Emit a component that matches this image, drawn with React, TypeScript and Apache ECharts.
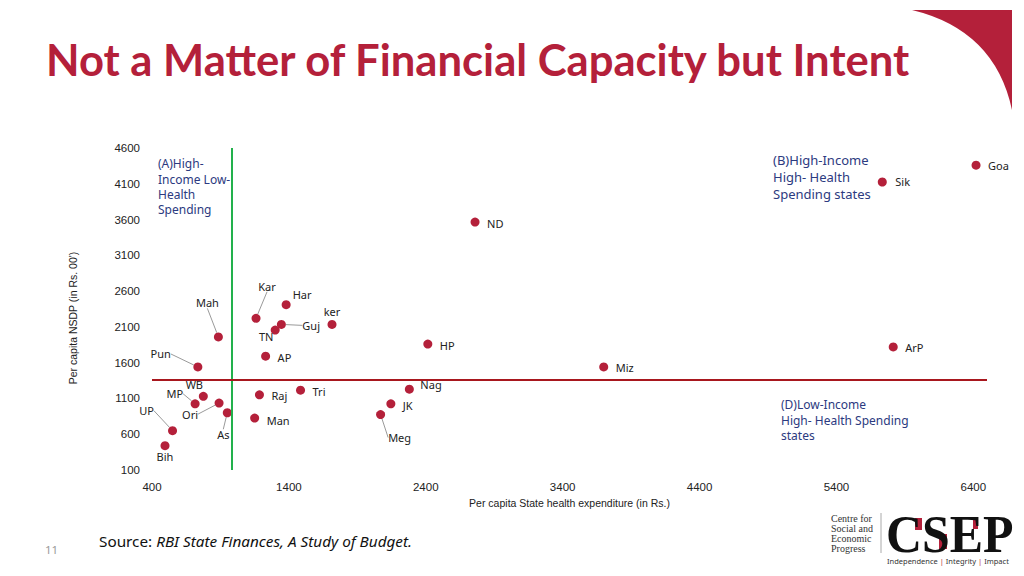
import React, { useEffect, useRef } from "react";
import * as echarts from "echarts";

// ---- Data ----
const states = ["Goa", "Sik", "ND", "HP", "Miz", "ArP", "Nag", "JK", "Meg", "Kar", "Har", "ker", "Guj", "TN", "AP", "Mah", "Pun", "WB", "MP", "Ori", "As", "UP", "Bih", "Raj", "Tri", "Man"];
const healthExp = [6420, 5735, 2760, 2415, 3700, 5815, 2280, 2145, 2070, 1160, 1380, 1715, 1345, 1300, 1230, 885, 735, 775, 715, 890, 950, 550, 495, 1185, 1485, 1150];
const nsdp = [4360, 4125, 3565, 1860, 1540, 1820, 1230, 1025, 875, 2220, 2410, 2135, 2135, 2055, 1690, 1960, 1540, 1130, 1025, 1035, 900, 650, 440, 1150, 1215, 825];

const xTicks = [400, 1400, 2400, 3400, 4400, 5400, 6400];
const yTicks = [100, 600, 1100, 1600, 2100, 2600, 3100, 3600, 4100, 4600];
const xRange = [400, 6500];
const yRange = [100, 4600];
const avgHealthExp = 980;
const avgNsdp = 1360;

const titleText = "Not a Matter of Financial Capacity but Intent";
const xName = "Per capita State health expenditure (in Rs.)";
const yName = "Per capita NSDP (in Rs. 00')";
const quadA = "(A)High-\nIncome Low-\nHealth\nSpending";
const quadB = "(B)High-Income\nHigh- Health\nSpending states";
const quadD = "(D)Low-Income\nHigh- Health Spending\nstates";

// label placement (style): dx, dy, align, leader line
const labelPlacement: Record<string, [number, number, string, boolean]> = {
  Goa: [12, 0, "left", false],
  Sik: [13, 0, "left", false],
  ND: [12, 1, "left", false],
  HP: [12, 1, "left", false],
  Miz: [12, 1, "left", false],
  ArP: [12, 1, "left", false],
  Nag: [11, -5, "left", false],
  JK: [12, 2, "left", false],
  Meg: [19, 23, "center", true],
  Kar: [11, -32, "center", true],
  Har: [16, -10, "center", false],
  ker: [0, -13, "center", false],
  Guj: [21, 1, "left", true],
  TN: [-9, 6, "center", false],
  AP: [12, 1, "left", false],
  Mah: [-11, -34, "center", true],
  Pun: [-27, -13, "right", true],
  WB: [-9, -12, "center", false],
  MP: [-12, -10, "right", true],
  Ori: [-29, 11, "center", true],
  As: [-4, 22, "center", true],
  UP: [-26, -20, "center", true],
  Bih: [0, 11, "center", false],
  Raj: [12, 1, "left", false],
  Tri: [12, 1, "left", false],
  Man: [12, 2, "left", false],
};

const RED = "#B4203A";
const NAVY = "#2C3A80";
const AXISFONT = "'Liberation Sans', Arial, sans-serif";
const SANS = "'Noto Sans', 'Open Sans', sans-serif";
const SERIF = "'Liberation Serif', 'DejaVu Serif', serif";

echarts.graphic.registerShape(
  "wedge",
  echarts.graphic.extendPath("M0,0 L100,0 L100,100 Q83,20 0,0 Z", {})
);

export default function App() {
  const ref = useRef<HTMLDivElement>(null);
  useEffect(() => {
    if (!ref.current) return;
    const chart = echarts.init(ref.current, undefined, { renderer: "svg" });
    const option: any = {
      animation: false,
      backgroundColor: "#ffffff",
      grid: { left: 152, right: 37, top: 148, bottom: 106, containLabel: false },
      xAxis: {
        type: "value",
        min: xRange[0],
        max: xRange[1],
        axisLine: { show: false },
        axisTick: { show: false },
        splitLine: { show: false },
        axisLabel: {
          customValues: xTicks,
          formatter: (v: number) => String(v),
          margin: 11,
          color: "#222",
          fontSize: 11.5,
          fontFamily: AXISFONT,
        },
        name: xName,
        nameLocation: "middle",
        nameGap: 25,
        nameTextStyle: { color: "#222", fontSize: 10.5, fontFamily: AXISFONT },
      },
      yAxis: {
        type: "value",
        min: yRange[0],
        max: yRange[1],
        axisLine: { show: false },
        axisTick: { show: false },
        splitLine: { show: false },
        axisLabel: {
          customValues: yTicks,
          formatter: (v: number) => String(v),
          margin: 12,
          color: "#222",
          fontSize: 11.5,
          fontFamily: AXISFONT,
        },
      },
      series: [
        {
          type: "scatter",
          symbolSize: 9,
          itemStyle: { color: RED, opacity: 1 },
          data: states.map((s, i) => ({
            name: s,
            value: [healthExp[i], nsdp[i]],
            labelLine: { show: labelPlacement[s][3], lineStyle: { color: "#9a9a9a", width: 1 } },
          })),
          label: {
            show: true,
            position: "inside",
            formatter: "{b}",
            color: "#222",
            fontSize: 11,
            fontFamily: SANS,
          },
          labelLine: { show: false, lineStyle: { color: "#9a9a9a", width: 1 } },
          labelLayout: (p: any) => {
            const pl = labelPlacement[states[p.dataIndex]];
            return { dx: pl[0], dy: pl[1], align: pl[2], verticalAlign: "middle" };
          },
          markLine: {
            silent: true,
            symbol: "none",
            label: { show: false },
            data: [
              [
                { coord: [avgHealthExp, yRange[0]], lineStyle: { color: "#22B14C", width: 2, type: "solid" } },
                { coord: [avgHealthExp, yRange[1]], lineStyle: { color: "#22B14C", width: 2, type: "solid" } },
              ],
              [
                { coord: [xRange[0], avgNsdp], lineStyle: { color: "#A8171E", width: 2, type: "solid" } },
                { coord: [xRange[1], avgNsdp], lineStyle: { color: "#A8171E", width: 2, type: "solid" } },
              ],
            ],
          },
        },
      ],
      graphic: [
        { type: "wedge", x: 912, y: 10, style: { fill: RED } },
        {
          type: "text",
          left: 46,
          top: 37,
          style: { text: titleText, fill: RED, font: "bold 43.6px Lato, 'Noto Sans', sans-serif" },
        },
        {
          type: "text",
          x: 73,
          y: 318,
          rotation: Math.PI / 2,
          style: { text: yName, fill: "#222", fontSize: 10.5, fontFamily: AXISFONT, align: "center", verticalAlign: "middle" },
        },
        {
          type: "text",
          x: 158,
          y: 156,
          style: { text: quadA, fill: NAVY, fontSize: 12, fontFamily: SANS, lineHeight: 15.4 },
        },
        {
          type: "text",
          x: 773,
          y: 151,
          style: { text: quadB, fill: NAVY, fontSize: 13, fontFamily: SANS, lineHeight: 17 },
        },
        {
          type: "text",
          x: 781,
          y: 397,
          style: { text: quadD, fill: NAVY, fontSize: 12, fontFamily: SANS, lineHeight: 15.5 },
        },
        {
          type: "text",
          x: 99,
          y: 541,
          style: {
            text: "{a|Source: }{b|RBI State Finances, A Study of Budget.}",
            verticalAlign: "middle",
            rich: {
              a: { fontSize: 15.3, fontFamily: SANS, fill: "#111" },
              b: { fontSize: 15.3, fontFamily: SANS, fontStyle: "italic", fill: "#111" },
            },
          },
        },
        {
          type: "text",
          x: 45,
          y: 549,
          style: { text: "11", fill: "#9a9a9a", fontSize: 11.5, fontFamily: SANS, verticalAlign: "middle" },
        },
        // logo
        {
          type: "text",
          x: 831,
          y: 513,
          style: { text: "Centre for\nSocial and\nEconomic\nProgress", fill: "#333", fontSize: 10, lineHeight: 10.2, fontFamily: SERIF },
        },
        { type: "line", shape: { x1: 881, y1: 513, x2: 881, y2: 553 }, style: { stroke: "#aaa", lineWidth: 1 } },
        { type: "rect", shape: { x: 915, y: 518, width: 7, height: 12 }, style: { fill: RED } },
        { type: "rect", shape: { x: 939, y: 534, width: 8, height: 15 }, style: { fill: RED } },
        { type: "rect", shape: { x: 973, y: 518, width: 5, height: 11 }, style: { fill: RED } },
        {
          type: "text",
          x: 886,
          y: 535,
          scaleX: 0.96,
          style: { text: "CSEP", fill: "#111", font: "bold 52px 'Liberation Serif', serif", verticalAlign: "middle" },
        },
        {
          type: "text",
          x: 887,
          y: 561,
          style: {
            text: "Independence {r||} Integrity {r||} Impact",
            fill: "#333",
            fontSize: 7.5,
            fontFamily: SANS,
            verticalAlign: "middle",
            rich: { r: { fill: RED, fontSize: 7.5, fontFamily: SANS } },
          },
        },
      ],
    };
    chart.setOption(option);
    return () => chart.dispose();
  }, []);
  return (
    <div
      ref={ref}
      style={{ position: "fixed", left: 0, top: 0, width: 1024, height: 576, background: "#fff" }}
    />
  );
}
